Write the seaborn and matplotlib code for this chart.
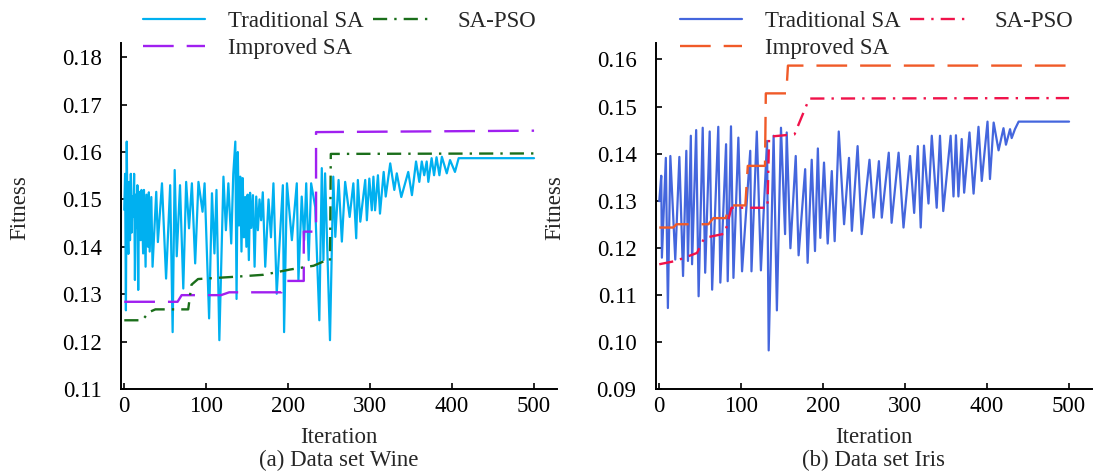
import matplotlib
matplotlib.use('Agg')
import matplotlib.pyplot as plt
import seaborn as sns

sns.set_style('ticks')
plt.rcParams['font.family'] = ['Liberation Serif', 'DejaVu Serif']

# ---- (a) Data set Wine ----
wine_trad_iter = [0, 1, 2, 3, 4, 5, 6, 7, 8, 9, 10, 11, 12, 13, 14, 15, 16, 17, 18, 20,
                  21, 23, 24, 26, 27, 29, 30, 31, 33, 34.5, 39, 41, 46, 51, 56, 59, 61.5, 64, 68, 72,
                  75.5, 79, 82.5, 86.5, 90.5, 95.5, 98, 103.5, 107, 110, 112.5, 116, 121, 124, 127, 130.5,
                  133, 135.5, 137, 138.5, 140, 141.5, 143, 144.5, 146, 147.5, 149, 150.5, 152, 153.5,
                  155, 157, 159, 161, 163, 165, 167, 169, 172, 176, 179, 182, 186, 193.5, 195, 198.5,
                  204.5, 210.5, 212.5, 216.5, 219.5, 222, 225, 228, 233, 238, 241, 243, 245, 251,
                  255, 257.5, 261.5, 265.5, 269.5, 275, 279.5, 283, 285, 288, 294, 296, 299, 302,
                  304, 306, 309.5, 312, 316.5, 319, 324.5, 329.5, 332.5, 338, 346.5, 351, 356, 360,
                  363, 366, 369, 371, 375, 378, 381, 384.5, 387.5, 393.5, 397.5, 403.5, 408, 500]
wine_trad_fit = [0.1478, 0.1554, 0.1266, 0.1622, 0.1440, 0.1385, 0.1537, 0.1414, 0.1554, 0.1430,
                 0.1506, 0.1463, 0.1554, 0.1330, 0.1510, 0.1440, 0.1530, 0.1309, 0.1516, 0.1414,
                 0.1520, 0.1386, 0.1520, 0.1358, 0.1510, 0.1400, 0.1515, 0.1390, 0.1505, 0.1358,
                 0.1516, 0.1410, 0.1534, 0.1333, 0.1530, 0.1220, 0.1562, 0.1380, 0.1530, 0.1312,
                 0.1537, 0.1439, 0.1534, 0.1365, 0.1537, 0.1474, 0.1534, 0.1249, 0.1513, 0.1386,
                 0.1520, 0.1203, 0.1548, 0.1435, 0.1534, 0.1407, 0.1554, 0.1622, 0.1290, 0.1600,
                 0.1445, 0.1548, 0.1390, 0.1545, 0.1420, 0.1505, 0.1400, 0.1510, 0.1372, 0.1514,
                 0.1440, 0.1509, 0.1358, 0.1506, 0.1435, 0.1500, 0.1456, 0.1515, 0.1358, 0.1500,
                 0.1420, 0.1534, 0.1301, 0.1530, 0.1220, 0.1534, 0.1414, 0.1534, 0.1329, 0.1506,
                 0.1414, 0.1534, 0.1372, 0.1534, 0.1484, 0.1245, 0.1566, 0.1372, 0.1555, 0.1203,
                 0.1548, 0.1421, 0.1541, 0.1411, 0.1537, 0.1463, 0.1534, 0.1418, 0.1541, 0.1453,
                 0.1541, 0.1456, 0.1544, 0.1477, 0.1548, 0.1477, 0.1551, 0.1470, 0.1558, 0.1506,
                 0.1576, 0.1520, 0.1555, 0.1505, 0.1558, 0.1509, 0.1580, 0.1537, 0.1580, 0.1551,
                 0.1580, 0.1537, 0.1587, 0.1551, 0.1589, 0.1551, 0.1590, 0.1555, 0.1583, 0.1558,
                 0.1587, 0.1587]

wine_imp_iter = [0, 65, 70, 118, 128, 192, 198, 219, 219, 234, 234, 500]
wine_imp_fit = [0.1284, 0.1284, 0.1298, 0.1298, 0.1304, 0.1304, 0.1328, 0.1328, 0.1432, 0.1432,
                0.1642, 0.1645]

wine_pso_iter = [0, 22, 30, 38, 78, 82, 90, 137, 170, 202, 231, 243, 251, 252, 500]
wine_pso_fit = [0.1245, 0.1245, 0.1262, 0.1268, 0.1268, 0.1320, 0.1332, 0.1337, 0.1341, 0.1352,
                0.1360, 0.1369, 0.1370, 0.1596, 0.1597]

# ---- (b) Data set Iris ----
iris_trad_iter = [0, 2.4, 3.2, 8, 10.5, 13.5, 19.5, 24.5, 29, 33, 35, 38.5, 40, 45, 48, 53, 56,
                  61.5, 64.5, 72, 74.5, 81.5, 83.5, 87.5, 90.5, 96.5, 101, 111, 112.5, 119, 124,
                  131.5, 133.5, 139.5, 143.5, 148.5, 153.5, 155.5, 160, 166.5, 170, 178, 181, 186,
                  190, 193.5, 196.5, 201, 205.5, 210.5, 214, 219, 225.5, 231.5, 235, 242, 247,
                  256.5, 261.5, 268, 271.5, 280, 283.5, 292, 298, 306, 311, 315.5, 319, 323, 328.5,
                  332.5, 338.5, 342.5, 346.5, 355.5, 359, 362, 365, 369, 372, 378.5, 383.5, 389.5,
                  393.5, 400.5, 403.5, 408, 414, 420, 423, 428, 430, 434, 438.5, 500]
iris_trad_fit = [0.1299, 0.1353, 0.1179, 0.1391, 0.1072, 0.1395, 0.1175, 0.1393, 0.1140, 0.1406,
                 0.1172, 0.1438, 0.1165, 0.1450, 0.1097, 0.1455, 0.1147, 0.1447, 0.1111, 0.1457,
                 0.1126, 0.1420, 0.1129, 0.1458, 0.1136, 0.1434, 0.1150, 0.1406, 0.1150, 0.1447,
                 0.1152, 0.1427, 0.0982, 0.1438, 0.1067, 0.1455, 0.1229, 0.1445, 0.1199, 0.1395,
                 0.1184, 0.1367, 0.1168, 0.1387, 0.1193, 0.1411, 0.1221, 0.1381, 0.1209, 0.1363,
                 0.1214, 0.1447, 0.1250, 0.1391, 0.1236, 0.1416, 0.1229, 0.1387, 0.1264, 0.1384,
                 0.1264, 0.1402, 0.1253, 0.1402, 0.1243, 0.1395, 0.1274, 0.1416, 0.1243, 0.1417,
                 0.1294, 0.1438, 0.1285, 0.1438, 0.1278, 0.1438, 0.1309, 0.1439, 0.1309, 0.1431,
                 0.1317, 0.1445, 0.1315, 0.1457, 0.1342, 0.1468, 0.1346, 0.1466, 0.1407, 0.1454,
                 0.1419, 0.1452, 0.1433, 0.1452, 0.1468, 0.1468]

iris_imp_iter = [0, 17, 21, 60, 66, 81, 86, 105, 108, 129, 130, 155, 157, 500]
iris_imp_fit = [0.1243, 0.1243, 0.1250, 0.1250, 0.1263, 0.1263, 0.1290, 0.1290, 0.1374, 0.1374,
                0.1528, 0.1528, 0.1587, 0.1587]

iris_pso_iter = [0, 20, 46, 55, 80, 88, 132, 134, 165, 183, 500]
iris_pso_fit = [0.1165, 0.1172, 0.1189, 0.1221, 0.1230, 0.1285, 0.1285, 0.1436, 0.1441, 0.1517,
                0.1518]

W, H = 1099, 473
fig = plt.figure(figsize=(W / 100, H / 100), dpi=100)
ax1 = fig.add_axes([121 / W, 1 - 389 / H, 436 / W, 346 / H])
ax2 = fig.add_axes([656 / W, 1 - 389 / H, 436 / W, 346 / H])

dash_imp = (0, (13, 5.5))
dash_pso = (0, (6, 3, 1, 3))

panels = [
    (ax1, wine_trad_iter, wine_trad_fit, wine_imp_iter, wine_imp_fit, wine_pso_iter, wine_pso_fit,
     ['#00b0f0', '#a020f0', '#1a6e1a'], (0.11, 0.183), [0.11, 0.12, 0.13, 0.14, 0.15, 0.16, 0.17, 0.18],
     '(a) Data set Wine', 143),
    (ax2, iris_trad_iter, iris_trad_fit, iris_imp_iter, iris_imp_fit, iris_pso_iter, iris_pso_fit,
     ['#4466dd', '#f05a28', '#f0124a'], (0.09, 0.1635), [0.09, 0.10, 0.11, 0.12, 0.13, 0.14, 0.15, 0.16],
     '(b) Data set Iris', 680),
]

for ax, tx, ty, ix, iy, px, py, cols, ylim, yticks, sub, legx in panels:
    sns.lineplot(x=tx, y=ty, ax=ax, color=cols[0], lw=1.6, estimator=None, sort=False,
                 label='Traditional SA')
    sns.lineplot(x=ix, y=iy, ax=ax, color=cols[1], lw=1.7, estimator=None, sort=False,
                 linestyle=dash_imp, label='Improved SA')
    sns.lineplot(x=px, y=py, ax=ax, color=cols[2], lw=1.7, estimator=None, sort=False,
                 linestyle=dash_pso, label='SA-PSO')

    ax.set_xlim(-4, 528)
    ax.set_ylim(*ylim)
    ax.set_xticks([0, 100, 200, 300, 400, 500])
    ax.set_yticks(yticks)
    ax.set_yticklabels([f'{v:.2f}' for v in yticks])
    sns.despine(ax=ax)
    for s in ['left', 'bottom']:
        ax.spines[s].set_linewidth(1.4)
        ax.spines[s].set_color('black')
    ax.tick_params(axis='both', direction='in', length=4, width=1.2, labelsize=16.5, colors='black')
    ax.tick_params(axis='y', pad=14)
    ax.tick_params(axis='x', pad=5)

    ax.set_xlabel('Iteration', fontsize=16.5)
    ax.xaxis.set_label_coords(0.5, -0.11)
    ax.set_ylabel('Fitness', fontsize=16.5)
    ax.yaxis.set_label_coords(-0.207, 0.525)
    ax.text(0.5, -0.177, sub, transform=ax.transAxes, ha='center', va='top', fontsize=16.5)

    ax.legend(loc='upper left', bbox_to_anchor=(legx / W, 1 - 11 / H), bbox_transform=fig.transFigure,
              ncol=2, frameon=False, borderpad=0, borderaxespad=0, handlelength=2.7,
              handletextpad=1.0, columnspacing=0.4, labelspacing=0.25, fontsize=16.5)

fig.savefig('out.png', dpi=100)
